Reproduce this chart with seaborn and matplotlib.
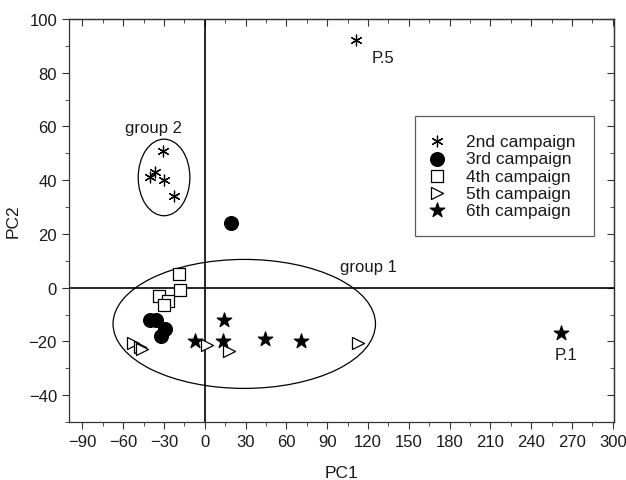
import pandas as pd
import matplotlib
matplotlib.use('Agg')
import matplotlib.pyplot as plt
import matplotlib.ticker as ticker
from matplotlib.patches import Ellipse
import seaborn as sns

# Style Setting
sns.set_style("ticks")
plt.rcParams.update({'font.size': 12, 'font.family': ['Liberation Sans', 'DejaVu Sans'],
                     'text.color': '#1a1a1a', 'axes.labelcolor': '#1a1a1a',
                     'xtick.color': '#333333', 'ytick.color': '#333333',
                     'xtick.labelcolor': '#1a1a1a', 'ytick.labelcolor': '#1a1a1a'})

### Data ###
pc1_2nd = [-31, -37, -40, -30, -23, 111]
pc2_2nd = [51, 43, 41, 40, 34, 92]
pc1_3rd = [-40, -36, -29, -32, 19]
pc2_3rd = [-12, -12, -15.5, -18, 24]
pc1_4th = [-19, -18, -34, -27, -30]
pc2_4th = [5, -1, -3, -5, -6.5]
pc1_5th = [-53, -48, -46, 1.5, 18, 113]
pc2_5th = [-20.5, -22, -23, -21.5, -23.5, -20.5]
pc1_6th = [14, -7, 13, 44, 71, 262]
pc2_6th = [-12, -20, -20, -19, -20, -17]

campaigns = ['2nd campaign', '3rd campaign', '4th campaign', '5th campaign', '6th campaign']
xs = [pc1_2nd, pc1_3rd, pc1_4th, pc1_5th, pc1_6th]
ys = [pc2_2nd, pc2_3rd, pc2_4th, pc2_5th, pc2_6th]

rows = []
for name, xv, yv in zip(campaigns, xs, ys):
    for a, b in zip(xv, yv):
        rows.append({'PC1': a, 'PC2': b, 'campaign': name})
df = pd.DataFrame(rows)

# marker styles per campaign
styles = {
    '2nd campaign': dict(marker=(6, 2, 0), s=60, color='black', linewidth=0.9),
    '3rd campaign': dict(marker='o', s=100, color='black', edgecolor='black'),
    '4th campaign': dict(marker='s', s=70, facecolor='white', edgecolor='black', linewidth=0.9),
    '5th campaign': dict(marker='>', s=75, facecolor='white', edgecolor='black', linewidth=0.9),
    '6th campaign': dict(marker='*', s=120, color='black', edgecolor='black'),
}

fig = plt.figure(figsize=(6.26, 4.81), dpi=100)
ax = fig.add_axes([0.110, 0.1206, 0.871, 0.838])

for name in campaigns:
    sub = df[df['campaign'] == name]
    sns.scatterplot(data=sub, x='PC1', y='PC2', ax=ax, label=name, zorder=3, **styles[name])

# zero lines
ax.axhline(0, color='black', lw=1.2, zorder=1)
ax.axvline(0, color='black', lw=1.2, zorder=1)

# group ellipses
ax.add_patch(Ellipse((-30, 41), 38, 28.5, fill=False, edgecolor='black', lw=0.9))
ax.add_patch(Ellipse((29, -13.5), 193, 48, fill=False, edgecolor='black', lw=0.9))

# annotations
ax.text(-37.5, 59.7, 'group 2', ha='center', va='center', fontsize=12)
ax.text(120, 8, 'group 1', ha='center', va='center', fontsize=12)
ax.text(123, 85.5, 'P.5', ha='left', va='center', fontsize=12)
ax.text(257, -25, 'P.1', ha='left', va='center', fontsize=12)

# axes
ax.set_xlim(-100, 301)
ax.set_ylim(-50, 100)
ax.set_xticks(range(-90, 301, 30))
ax.set_yticks(range(-40, 101, 20))
ax.xaxis.set_minor_locator(ticker.MultipleLocator(15))
ax.yaxis.set_minor_locator(ticker.MultipleLocator(10))
ax.tick_params(which='both', direction='out', labelsize=12)
ax.tick_params(which='major', length=5)
ax.tick_params(which='minor', length=3)

# mirrored ticks on top and right, pointing inward
ax_top = ax.secondary_xaxis('top')
ax_top.set_xticks(range(-90, 301, 30))
ax_top.xaxis.set_minor_locator(ticker.MultipleLocator(15))
ax_top.tick_params(which='both', direction='in', labeltop=False)
ax_top.tick_params(which='major', length=5)
ax_top.tick_params(which='minor', length=3)
ax_right = ax.secondary_yaxis('right')
ax_right.set_yticks(range(-40, 101, 20))
ax_right.yaxis.set_minor_locator(ticker.MultipleLocator(10))
ax_right.tick_params(which='both', direction='in', labelright=False)
ax_right.tick_params(which='major', length=5)
ax_right.tick_params(which='minor', length=3)

for a in [ax, ax_top, ax_right]:
    for side in a.spines:
        a.spines[side].set_linewidth(0.9)
        a.spines[side].set_color('#333333')
ax.set_xlabel('PC1', fontsize=12.5, labelpad=12)
ax.set_ylabel('PC2', fontsize=12.5, labelpad=6)

# legend
leg = ax.legend(loc='upper left', bbox_to_anchor=(0.635, 0.76), frameon=True, fancybox=False,
                edgecolor='#333333', fontsize=12.5, handletextpad=1.5, borderpad=1.05,
                labelspacing=0.12, borderaxespad=0, handlelength=0.4)
leg.get_frame().set_linewidth(0.9)
for t in leg.get_texts():
    t.set_color('#1a1a1a')

fig.savefig('out.png', dpi=100)
